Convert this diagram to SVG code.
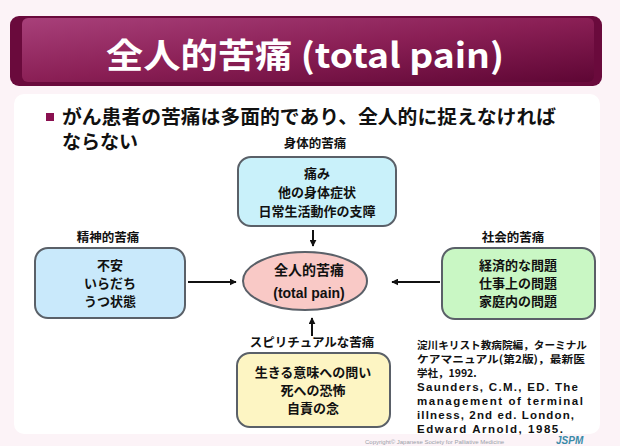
<svg xmlns="http://www.w3.org/2000/svg" width="620" height="446" viewBox="0 0 620 446">
<defs>
<linearGradient id="tg" x1="0" y1="0" x2="1" y2="1">
<stop offset="0" stop-color="#a8407a"/>
<stop offset="0.5" stop-color="#8a1f55"/>
<stop offset="1" stop-color="#5e0634"/>
</linearGradient>
<marker id="ah" viewBox="0 0 10 10" refX="9" refY="5" markerWidth="7" markerHeight="7" markerUnits="userSpaceOnUse" orient="auto">
<path d="M0,0 L10,5 L0,10 Z" fill="#111"/>
</marker>
<style>
text{font-family:"Liberation Sans","Noto Sans CJK JP",sans-serif;font-weight:bold;fill:#111}
.jp{font-family:"Noto Sans CJK JP","Liberation Sans",sans-serif;font-weight:bold}
.lbl{font-size:12.5px;text-anchor:middle}
.body{font-size:13px;text-anchor:middle}
.box{stroke:#5a6068;stroke-width:2}
.cite{font-size:10.5px}
.conn{stroke:#111;stroke-width:2;fill:none;marker-end:url(#ah)}
</style>
</defs>
<rect x="0" y="0" width="620" height="446" fill="#fcf3f7"/>
<rect x="14" y="94" width="586" height="340" rx="10" fill="#ffffff"/>
<g id="title">
<rect x="10" y="16" width="592" height="70" rx="9" fill="#6a0a3c"/>
<rect x="22" y="18" width="572" height="64" rx="6" fill="url(#tg)"/>
<text x="305" y="68" text-anchor="middle" class="jp" style="font-size:34px;fill:#ffffff" textLength="398" lengthAdjust="spacingAndGlyphs">全人的苦痛 (total pain)</text>
</g>
<g id="bullet">
<rect x="46" y="113" width="8" height="8" fill="#8a1050"/>
<text x="62" y="124" class="jp" style="font-size:19px" textLength="494" lengthAdjust="spacingAndGlyphs">がん患者の苦痛は多面的であり、全人的に捉えなければ</text>
<text x="62" y="149" class="jp" style="font-size:19px">ならない</text>
</g>
<g id="connectors">
<line x1="313" y1="230" x2="313" y2="246" class="conn"/>
<line x1="188" y1="282" x2="236" y2="282" class="conn"/>
<line x1="440" y1="282" x2="392" y2="282" class="conn"/>
<line x1="312" y1="336" x2="312" y2="318" class="conn"/>
</g>
<g id="physical">
<text x="315" y="148" class="jp lbl">身体的苦痛</text>
<rect x="238" y="157" width="158" height="69" rx="13" fill="#c9f1fa" class="box"/>
<text x="317" y="178" class="jp body">痛み</text>
<text x="317" y="197" class="jp body">他の身体症状</text>
<text x="317" y="216" class="jp body">日常生活動作の支障</text>
</g>
<g id="center">
<ellipse cx="305" cy="281" rx="62" ry="29" fill="#f9c9c6" stroke="#5a6068" stroke-width="2"/>
<text x="309" y="275" class="jp body" style="font-size:14px">全人的苦痛</text>
<text x="309" y="298" class="body" style="font-size:14px">(total pain)</text>
</g>
<g id="mental">
<text x="108" y="242" class="jp lbl">精神的苦痛</text>
<rect x="35" y="248" width="150" height="70" rx="13" fill="#c9e9fb" class="box"/>
<text x="110" y="270" class="jp body">不安</text>
<text x="110" y="288" class="jp body">いらだち</text>
<text x="110" y="306" class="jp body">うつ状態</text>
</g>
<g id="social">
<text x="513" y="242" class="jp lbl">社会的苦痛</text>
<rect x="442" y="248" width="153" height="71" rx="13" fill="#c9f7c4" class="box"/>
<text x="518" y="270" class="jp body">経済的な問題</text>
<text x="518" y="288" class="jp body">仕事上の問題</text>
<text x="518" y="306" class="jp body">家庭内の問題</text>
</g>
<g id="spiritual">
<text x="312" y="347" class="jp lbl">スピリチュアルな苦痛</text>
<rect x="237" y="353" width="153" height="74" rx="13" fill="#fdf5c3" class="box"/>
<text x="313" y="377" class="jp body">生きる意味への問い</text>
<text x="313" y="395" class="jp body">死への恐怖</text>
<text x="313" y="413" class="jp body">自責の念</text>
</g>
<g id="citation">
<text x="417" y="349" class="jp cite" textLength="170" lengthAdjust="spacingAndGlyphs">淀川キリスト教病院編，ターミナル</text>
<text x="417" y="363" class="jp cite" textLength="168" lengthAdjust="spacingAndGlyphs">ケアマニュアル(第2版)，最新医</text>
<text x="417" y="377" class="jp cite">学社，1992.</text>
<text x="417" y="391" class="cite" style="font-size:11.5px" textLength="161" lengthAdjust="spacing">Saunders, C.M., ED. The</text>
<text x="417" y="405" class="cite" style="font-size:11.5px" textLength="166" lengthAdjust="spacing">management  of terminal</text>
<text x="417" y="419" class="cite" style="font-size:11.5px" textLength="157" lengthAdjust="spacing">illness, 2nd ed. London,</text>
<text x="417" y="433" class="cite" style="font-size:11.5px" textLength="146" lengthAdjust="spacing">Edward  Arnold, 1985.</text>
</g>
<g id="footer">
<text x="365" y="444" style="font-size:6px;font-weight:normal;fill:#9aa0a8">Copyright© Japanese Society for Palliative Medicine</text>
<text x="556" y="444" style="font-size:10px;font-style:italic;fill:#3a8aa8">JSPM</text>
</g>
</svg>
